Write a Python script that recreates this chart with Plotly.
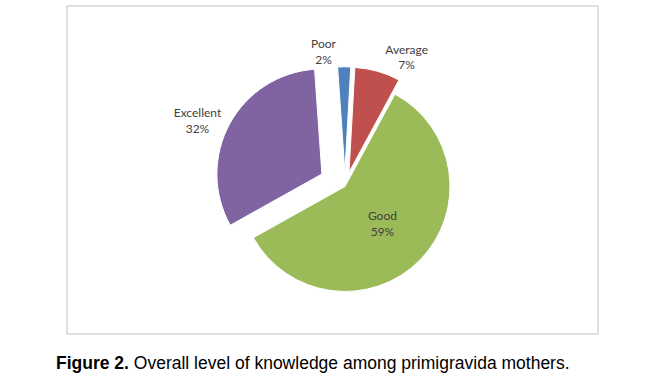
import plotly.graph_objects as go

categories = ["Poor", "Average", "Good", "Excellent"]
values = [2, 7, 59, 32]
colors = ["#4F81BD", "#C0504D", "#9BBB59", "#8064A2"]
pulls = [0.14, 0.14, 0.0, 0.25]
positions = ["outside", "outside", "inside", "outside"]

W, H = 645, 381

fig = go.Figure(go.Pie(
    labels=categories,
    values=values,
    sort=False,
    direction="clockwise",
    rotation=-4,
    pull=pulls,
    automargin=False,
    marker=dict(colors=colors, line=dict(color="white", width=1)),
    texttemplate="%{label}<br>%{value}%",
    textposition=positions,
    textfont=dict(family="Lato, Open Sans, sans-serif", size=12, color="#404040"),
    insidetextorientation="horizontal",
    showlegend=False,
    hoverinfo="label+percent",
    domain=dict(x=[0.3314, 0.7384], y=[0.166, 0.855]),
))

fig.update_layout(
    width=W, height=H,
    margin=dict(l=0, r=0, t=0, b=0, autoexpand=False),
    paper_bgcolor="white",
    plot_bgcolor="white",
    shapes=[dict(type="rect", xref="paper", yref="paper",
                 x0=67/W, x1=598/W, y0=1-334/H, y1=1-6/H,
                 line=dict(color="#C4BCC8", width=1), fillcolor="rgba(0,0,0,0)")],
    annotations=[dict(
        text="<b>Figure 2.</b> Overall level of knowledge among primigravida mothers.",
        xref="paper", yref="paper", x=313/W, y=1-363/H,
        xanchor="center", yanchor="middle", showarrow=False,
        font=dict(family="Liberation Sans, Arial, sans-serif", size=17.5, color="black"),
    )],
)

fig.write_html("out.html")
